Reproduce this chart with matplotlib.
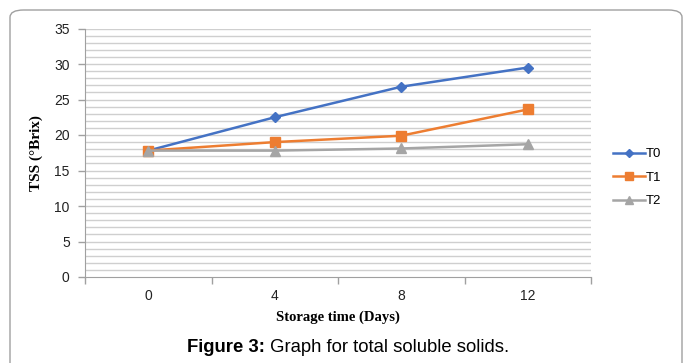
import matplotlib
matplotlib.use("Agg")
import matplotlib.pyplot as plt
from matplotlib.patches import FancyBboxPatch
import numpy as np

days = ["0", "4", "8", "12"]
t0 = [17.8, 22.5, 26.8, 29.5]
t1 = [17.8, 19.0, 19.9, 23.6]
t2 = [17.8, 17.8, 18.1, 18.7]
series_names = ["T0", "T1", "T2"]
y_ticks = [0, 5, 10, 15, 20, 25, 30, 35]

W, H = 683, 363
fig = plt.figure(figsize=(W / 100, H / 100), dpi=100)
fig.patch.set_facecolor("white")

# rounded outer frame
frame = FancyBboxPatch((10 / W, -0.2), (672 / W), 1.2 - 10 / H,
                       boxstyle="round,pad=0,rounding_size=0.02",
                       transform=fig.transFigure, fill=False,
                       edgecolor="#a0a0a0", linewidth=1.0)
fig.patches.append(frame)

left, right, top, bottom = 85, 591, 28.5, 277
ax = fig.add_axes([left / W, 1 - bottom / H, (right - left) / W, (bottom - top) / H])

x = np.arange(len(days))
ax.set_xlim(-0.5, len(days) - 0.5)
ax.set_ylim(0, 35)

# minor grid every unit
for v in range(1, 36):
    ax.axhline(v, color="#cfcfcf", linewidth=1.0, zorder=0)

ax.plot(x, t0, color="#4472C4", marker="D", markersize=5, linewidth=1.8, label=series_names[0], zorder=3)
ax.plot(x, t1, color="#ED7D31", marker="s", markersize=7, linewidth=1.8, label=series_names[1], zorder=3)
ax.plot(x, t2, color="#A5A5A5", marker="^", markersize=7, linewidth=1.8, label=series_names[2], zorder=3)

ax.set_yticks(y_ticks)
ax.set_yticklabels([str(v) for v in y_ticks])
ax.set_xticks(x)
ax.set_xticklabels(days)
ax.set_xticks(np.arange(-0.5, len(days), 1.0), minor=True)
ax.tick_params(axis="x", which="major", length=0, pad=9, labelsize=10)
ax.tick_params(axis="x", which="minor", length=5, color="#a0a0a0", width=1)
ax.tick_params(axis="y", length=5, color="#a0a0a0", width=1, labelsize=10, pad=6)
for lbl in ax.get_xticklabels() + ax.get_yticklabels():
    lbl.set_family("Liberation Sans")
    lbl.set_color("#222222")

for s in ["top", "right"]:
    ax.spines[s].set_visible(False)
ax.spines["left"].set_color("#a0a0a0")
ax.spines["bottom"].set_color("#a0a0a0")

ax.set_ylabel("TSS (°Brix)", family="Liberation Serif", fontweight="bold", fontsize=11, labelpad=8)
ax.set_xlabel("Storage time (Days)", family="Liberation Serif", fontweight="bold", fontsize=10.5, labelpad=5)

leg = ax.legend(loc="center left", bbox_to_anchor=(1.02, 0.40), frameon=False,
                prop={"family": "Liberation Sans", "size": 9.5}, handlelength=2.4,
                labelspacing=0.85, handletextpad=0.1, markerscale=0.75)

# caption: bold lead-in followed by regular text, centred as one line
cap_y = 1 - 347 / H
fig.canvas.draw()
renderer = fig.canvas.get_renderer()
t_bold = fig.text(0, cap_y, "Figure 3:", ha="left", va="center", fontsize=13.3,
                  family="Liberation Sans", fontweight="bold")
t_reg = fig.text(0, cap_y, " Graph for total soluble solids.", ha="left", va="center",
                 fontsize=13.3, family="Liberation Sans")
wb = t_bold.get_window_extent(renderer).width
wr = t_reg.get_window_extent(renderer).width
x0 = 348 - (wb + wr) / 2
t_bold.set_x(x0 / W)
t_reg.set_x((x0 + wb) / W)

fig.savefig("out.png", dpi=100, facecolor="white")
